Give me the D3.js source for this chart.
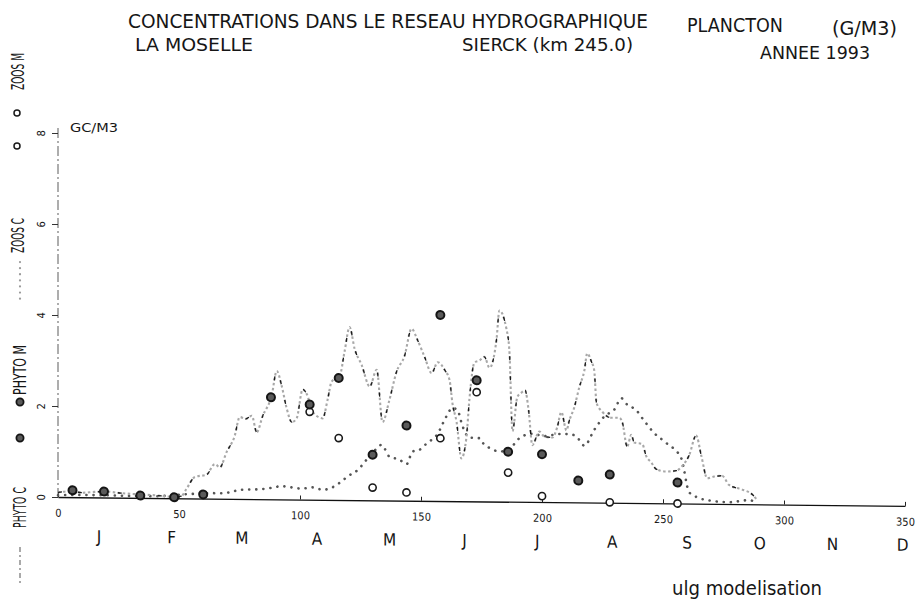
<!DOCTYPE html>
<html>
<head>
<meta charset="utf-8">
<script src="https://cdn.jsdelivr.net/npm/d3@7"></script>
<style>
  body { margin: 0; background: #fff; }
  svg { display: block; }
  text { font-family: "DejaVu Sans Condensed", "Liberation Sans Narrow", "DejaVu Sans", sans-serif; fill: #161616; }
</style>
</head>
<body>
<svg id="chart" width="917" height="600"></svg>
<script>
// values (day of year, g C / m3)
const phytoC = [
  [0,0.1],[5,0.13],[10,0.1],[15,0.12],[20,0.13],[26,0.1],[32,0.08],[40,0.06],[47,0.03],[51,0.05],
  [53,0.2],[56.5,0.47],[61.5,0.53],[64.8,0.76],[66.9,0.69],[69.7,1.03],[73,1.38],[75.1,1.8],[77.6,1.76],
  [80.1,1.83],[82.1,1.47],[84.6,1.83],[88.3,2.28],[90.4,2.82],[92.4,2.5],[94.5,2.0],[96.6,1.7],[98.6,1.78],
  [101.1,2.42],[102.8,2.32],[105.2,1.93],[109.4,1.79],[111.4,2.2],[113.1,2.6],[116.4,2.72],[118.4,3.26],
  [120.5,3.8],[122.6,3.32],[125.5,2.97],[128.8,2.5],[131.7,2.87],[134.1,1.72],[137,2.22],[139.9,2.83],
  [143.2,3.18],[146.1,3.78],[148.6,3.53],[151.5,3.16],[154.4,2.81],[156.9,3.05],[159.8,2.88],[161.8,2.66],
  [163,2.15],[164.7,1.74],[166.7,0.94],[168.8,1.42],[170,2.24],[172.1,3.05],[174.2,3.1],[176.2,3.18],
  [178.3,2.94],[181.2,3.56],[182.4,4.2],[185.3,3.8],[186.5,3.34],[187.8,1.55],[189.8,2.3],[191.5,2.4],
  [193,2.45],[194.5,2.0],[196,1.25],[198.9,1.55],[201,1.44],[204.3,1.42],[206.3,1.65],[208,1.98],
  [210.1,1.58],[211.3,1.8],[213.4,2.1],[215.4,2.53],[217.5,2.9],[218.7,3.28],[220.4,3.1],[221.6,2.9],
  [222.5,2.2],[224.9,2.0],[228.6,1.87],[231.9,1.87],[233.2,1.77],[235.2,1.24],[236.9,1.5],[238.1,1.33],
  [241.4,1.3],[243.1,1.03],[245.1,0.9],[247.2,0.75],[251.3,0.7],[255.5,0.72],[258,0.83],[260.8,1.06],
  [263.7,1.5],[265.8,1.06],[268.3,0.56],[271.1,0.6],[274.4,0.62],[277.3,0.42],[282.7,0.32],[286.8,0.22],
  [288.5,0.12]
];
const zooC = [
  [0,0.04],[10,0.05],[20,0.05],[30,0.04],[40,0.04],[50.4,0.08],[55.7,0.1],[64,0.12],[68.1,0.12],[72.2,0.16],
  [75.1,0.2],[80.1,0.21],[84.2,0.22],[88.3,0.25],[92.4,0.29],[95.7,0.27],[100.7,0.24],[105.2,0.27],
  [109.4,0.22],[112.3,0.25],[117.2,0.41],[119.7,0.52],[123.8,0.66],[127.5,0.89],[130.8,1.09],[133.7,1.22],
  [137,0.96],[141.1,0.9],[144,0.8],[146.5,1.08],[149.4,1.12],[152.3,1.26],[156.8,1.47],[160.5,1.86],
  [163,2.05],[165.1,2.0],[167.1,1.66],[170,1.4],[174.2,1.39],[176.2,1.24],[178.3,1.18],[182.4,1.1],
  [186.1,1.14],[190.7,1.4],[196,1.5],[201,1.45],[207.2,1.5],[211.3,1.5],[214.2,1.45],[217.5,1.25],
  [221.6,1.6],[225.8,1.9],[229.9,2.05],[232.8,2.3],[235.2,2.16],[239,2.04],[241.4,1.87],[246.4,1.54],
  [251.3,1.33],[257.5,1.0],[260.8,0.25],[263.7,0.15],[268.3,0.08],[277.3,0.04],[285.6,0.09],[288.5,0.04]
];
const phytoM = [
  [6,0.15],[19,0.13],[34,0.05],[48,0.02],[60,0.09],[88,2.24],[104,2.09],[116,2.68],[130,1.0],
  [144,1.65],[158,4.09],[173,2.66],[186,1.1],[200,1.05],[215,0.48],[228,0.62],[256,0.46]
];
const zooM = [
  [104,1.93],[116,1.36],[130,0.28],[144,0.18],[158,1.38],[173,2.4],[186,0.64],[200,0.13],[228,0.01],[256,0]
];
const xTicks = [0, 50, 100, 150, 200, 250, 300, 350];
const yTicks = [0, 2, 4, 6, 8];
const months = ["J","F","M","A","M","J","J","A","S","O","N","D"];
const monthDays = [17, 47, 76, 107, 137, 168, 198, 229, 260, 290, 320, 349];

const svg = d3.select("#chart");
svg.append("rect").attr("width", 917).attr("height", 600).attr("fill", "#fff");

const x = d3.scaleLinear().domain([0, 350]).range([58, 905]);
const y = d3.scaleLinear().domain([0, 8]).range([497, 133]);

// the scanned sheet is slightly skewed: horizontals drop to the right
const plot = svg.append("g")
  .attr("transform", "translate(58,497) skewY(0.6) translate(-58,-497)");

// y axis
plot.append("line")
  .attr("x1", x(0)).attr("x2", x(0)).attr("y1", 128).attr("y2", 501)
  .attr("stroke", "#777").attr("stroke-width", 1.2)
  .attr("stroke-dasharray", "10,3,2,3");
const yAxis = plot.append("g")
  .attr("transform", `translate(${x(0)},0)`)
  .call(d3.axisLeft(y).tickValues(yTicks).tickSize(6).tickSizeOuter(0));
yAxis.select(".domain").remove();
yAxis.selectAll("line").attr("stroke", "#333");
yAxis.selectAll("text")
  .attr("x", 0).attr("dy", 0)
  .attr("text-anchor", "middle")
  .attr("transform", "translate(-13,0) rotate(-90)")
  .style("font-size", "11px")
  .style("font-family", "'DejaVu Sans Condensed', sans-serif")
  .attr("fill", "#161616");

// x axis
const xAxis = plot.append("g")
  .attr("transform", `translate(0,${y(0)})`)
  .call(d3.axisBottom(x).tickValues(xTicks).tickSize(-4).tickSizeOuter(0).tickPadding(12));
xAxis.select(".domain").attr("stroke", "#111").attr("stroke-width", 1.3);
xAxis.selectAll("line").attr("stroke", "#222");
xAxis.selectAll("text")
  .style("font-size", "11px")
  .style("font-family", "'DejaVu Sans Condensed', sans-serif")
  .attr("fill", "#161616");

plot.selectAll("text.month")
  .data(months)
  .join("text")
  .attr("class", "month")
  .attr("x", (d, i) => x(monthDays[i]))
  .attr("y", 542)
  .attr("text-anchor", "middle")
  .style("font-size", "17px")
  .text(d => d);

// curves
const line = d3.line()
  .x(d => x(d[0]))
  .y(d => y(d[1]))
  .curve(d3.curveMonotoneX);

plot.append("path").datum(zooC)
  .attr("d", line).attr("fill", "none")
  .attr("stroke", "#555").attr("stroke-width", 2.6)
  .attr("stroke-linecap", "round").attr("stroke-dasharray", "0.1,7");

plot.append("path").datum(phytoC)
  .attr("d", line).attr("fill", "none")
  .attr("stroke", "#a8a8a8").attr("stroke-width", 2.1)
  .attr("stroke-dasharray", "2.5,2.5");
plot.append("path").datum(phytoC)
  .attr("d", line).attr("fill", "none")
  .attr("stroke", "#1a1a1a").attr("stroke-width", 1.3)
  .attr("stroke-dasharray", "4,16");

// measurements
plot.selectAll("circle.zoo")
  .data(zooM)
  .join("circle")
  .attr("class", "zoo")
  .attr("cx", d => x(d[0])).attr("cy", d => y(d[1]))
  .attr("r", 3.6)
  .attr("fill", "#fff").attr("stroke", "#1a1a1a").attr("stroke-width", 1.6);

plot.selectAll("circle.phyto")
  .data(phytoM)
  .join("circle")
  .attr("class", "phyto")
  .attr("cx", d => x(d[0])).attr("cy", d => y(d[1]))
  .attr("r", 4)
  .attr("fill", "#5a5a5a").attr("stroke", "#151515").attr("stroke-width", 2);

// unit label
svg.append("text").attr("x", 70).attr("y", 132)
  .attr("textLength", 48).attr("lengthAdjust", "spacingAndGlyphs")
  .style("font-size", "12px").text("GC/M3");

// legend column on the left (rotated labels)
const legend = svg.append("g");
function vlabel(txt, x0, yStart, len) {
  legend.append("text")
    .attr("transform", `translate(${x0},${yStart}) rotate(-90)`)
    .attr("textLength", len).attr("lengthAdjust", "spacingAndGlyphs")
    .style("font-size", "17px")
    .text(txt);
}
vlabel("ZOOS M", 24, 90, 37);
vlabel("ZOOS C", 24, 253, 35);
vlabel("PHYTO M", 26, 395, 50);
vlabel("PHYTO C", 26, 528, 41);

legend.selectAll("circle.lz")
  .data([113, 146])
  .join("circle")
  .attr("cx", 17).attr("cy", d => d).attr("r", 3)
  .attr("fill", "#fff").attr("stroke", "#1a1a1a").attr("stroke-width", 1.5);
legend.selectAll("circle.lp")
  .data([402, 438])
  .join("circle")
  .attr("cx", 20).attr("cy", d => d).attr("r", 3.6)
  .attr("fill", "#5a5a5a").attr("stroke", "#151515").attr("stroke-width", 1.8);
legend.append("line")
  .attr("x1", 20).attr("x2", 20).attr("y1", 262).attr("y2", 300)
  .attr("stroke", "#9a9a9a").attr("stroke-width", 2.2)
  .attr("stroke-linecap", "round").attr("stroke-dasharray", "0.1,6");
legend.append("line")
  .attr("x1", 20).attr("x2", 20).attr("y1", 547).attr("y2", 585)
  .attr("stroke", "#a0a0a0").attr("stroke-width", 1.8)
  .attr("stroke-dasharray", "5,3,2,3");

// header
function label(txt, x0, y0, len, size) {
  svg.append("text")
    .attr("x", x0).attr("y", y0)
    .attr("textLength", len).attr("lengthAdjust", "spacingAndGlyphs")
    .style("font-size", size + "px")
    .text(txt);
}
label("CONCENTRATIONS DANS LE RESEAU HYDROGRAPHIQUE", 128, 28, 520, 20);
label("PLANCTON", 687, 32, 96, 20);
label("(G/M3)", 832, 35, 65, 20);
label("LA MOSELLE", 135, 51, 118, 18);
label("SIERCK (km 245.0)", 462, 51, 171, 18);
label("ANNEE 1993", 760, 59, 110, 18);

svg.append("text")
  .attr("x", 672).attr("y", 595)
  .attr("textLength", 150).attr("lengthAdjust", "spacingAndGlyphs")
  .style("font-size", "20px")
  .style("font-family", "'DejaVu Sans', sans-serif")
  .text("ulg modelisation");
</script>
</body>
</html>
